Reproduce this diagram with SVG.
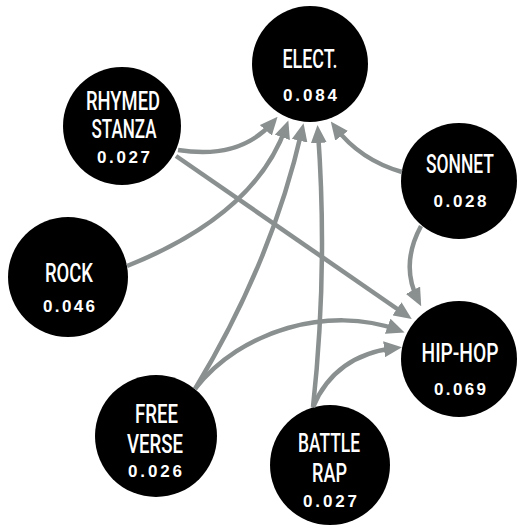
<svg xmlns="http://www.w3.org/2000/svg" width="517" height="525" viewBox="0 0 517 525">
<style>
.node{fill:#000}
.lbl{font-family:Roboto,"Liberation Sans",Arial,sans-serif;font-size:26px;font-weight:500;fill:#fff;text-anchor:middle}
.num{font-family:"Liberation Sans",Arial,sans-serif;font-size:17px;font-weight:bold;fill:#fff;text-anchor:middle}
.edge{fill:none;stroke:#8a8f8f;stroke-width:4.5;marker-end:url(#arr)}
</style>
<defs>
<marker id="arr" markerUnits="userSpaceOnUse" markerWidth="18" markerHeight="16" refX="11" refY="8" orient="auto">
<path d="M0,0 L18,8 L0,16 z" fill="#8a8f8f"/>
</marker>
</defs>
<rect width="517" height="525" fill="#fff"/>
<g id="nodes-bg">
<circle class="node" cx="310" cy="64" r="58"/>
<circle class="node" cx="122" cy="126" r="59"/>
<circle class="node" cx="68" cy="277" r="60"/>
<circle class="node" cx="459" cy="181" r="58"/>
<circle class="node" cx="459" cy="359" r="58"/>
<circle class="node" cx="156" cy="436" r="61"/>
<circle class="node" cx="330" cy="465" r="60"/>
</g>
<g id="connectors">
<path class="edge" d="M178,150 Q240,160 273,122"/>
<path class="edge" d="M176,156 L406,315"/>
<path class="edge" d="M127,266 Q255,215 286,127"/>
<path class="edge" d="M195,389 Q272,262 302,130"/>
<path class="edge" d="M195,389 C240,330 330,305 398,330"/>
<path class="edge" d="M313,407 Q328,270 318,132"/>
<path class="edge" d="M313,407 Q335,355 395,348"/>
<path class="edge" d="M402,172 Q360,160 335,127"/>
<path class="edge" d="M421,226 Q400,265 418,300"/>
</g>
<g id="node-elect">
<text class="lbl" transform="translate(310 68) scale(0.7 1)" textLength="78.6" lengthAdjust="spacingAndGlyphs">ELECT.</text>
<text class="num" x="310" y="101" textLength="54" lengthAdjust="spacing">0.084</text>
</g>
<g id="node-rhymed-stanza">
<text class="lbl" transform="translate(123 110) scale(0.7 1)" textLength="105.7" lengthAdjust="spacingAndGlyphs">RHYMED</text>
<text class="lbl" transform="translate(124 138) scale(0.7 1)" textLength="92.9" lengthAdjust="spacingAndGlyphs">STANZA</text>
<text class="num" x="123.5" y="163" textLength="53" lengthAdjust="spacing">0.027</text>
</g>
<g id="node-rock">
<text class="lbl" transform="translate(69 282) scale(0.7 1)" textLength="68.6" lengthAdjust="spacingAndGlyphs">ROCK</text>
<text class="num" x="69" y="312" textLength="52" lengthAdjust="spacing">0.046</text>
</g>
<g id="node-sonnet">
<text class="lbl" transform="translate(460 173) scale(0.7 1)" textLength="97.1" lengthAdjust="spacingAndGlyphs">SONNET</text>
<text class="num" x="460" y="207" textLength="53" lengthAdjust="spacing">0.028</text>
</g>
<g id="node-hiphop">
<text class="lbl" transform="translate(460 362) scale(0.7 1)" textLength="110" lengthAdjust="spacingAndGlyphs">HIP-HOP</text>
<text class="num" x="460" y="395" textLength="52" lengthAdjust="spacing">0.069</text>
</g>
<g id="node-free-verse">
<text class="lbl" transform="translate(156.5 423) scale(0.7 1)" textLength="61.4" lengthAdjust="spacingAndGlyphs">FREE</text>
<text class="lbl" transform="translate(155 453) scale(0.7 1)" textLength="80" lengthAdjust="spacingAndGlyphs">VERSE</text>
<text class="num" x="155" y="477" textLength="54" lengthAdjust="spacing">0.026</text>
</g>
<g id="node-battle-rap">
<text class="lbl" transform="translate(329 452) scale(0.7 1)" textLength="88.6" lengthAdjust="spacingAndGlyphs">BATTLE</text>
<text class="lbl" transform="translate(329.5 482) scale(0.7 1)" textLength="50" lengthAdjust="spacingAndGlyphs">RAP</text>
<text class="num" x="330" y="507" textLength="54" lengthAdjust="spacing">0.027</text>
</g>
</svg>
